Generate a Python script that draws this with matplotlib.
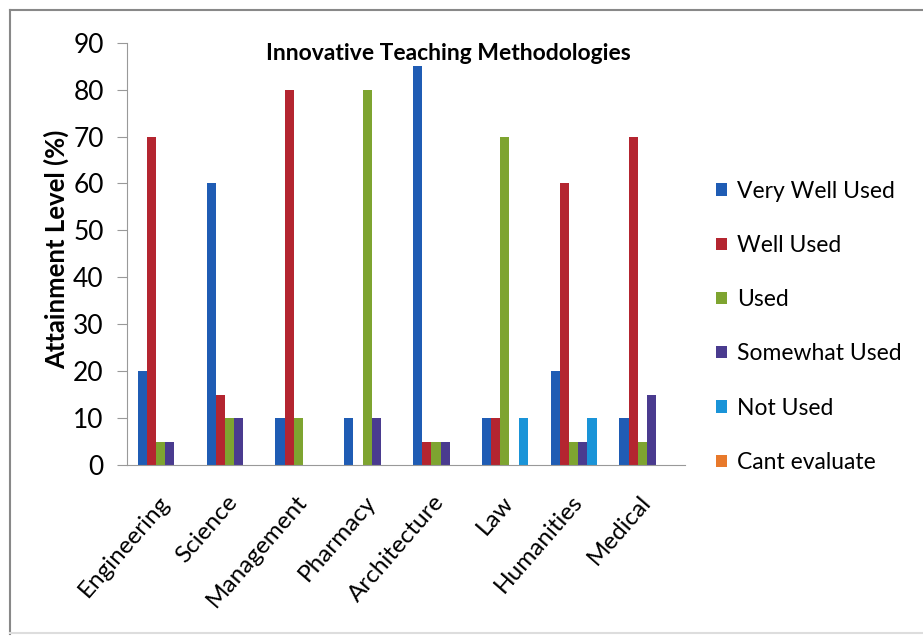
import numpy as np
import matplotlib.pyplot as plt
from matplotlib.lines import Line2D

# faculties on the x axis
faculties = ['Engineering', 'Science', 'Management', 'Pharmacy',
             'Architecture', 'Law', 'Humanities', 'Medical']

# attainment level (%) per response, one value per faculty
very_well_used = [20, 60, 10, 10, 85, 10, 20, 10]
well_used = [70, 15, 80, 0, 5, 10, 60, 70]
used = [5, 10, 10, 80, 5, 70, 5, 5]
somewhat_used = [5, 10, 0, 10, 5, 0, 5, 15]
not_used = [0, 0, 0, 0, 0, 10, 10, 0]
cant_evaluate = [0, 0, 0, 0, 0, 0, 0, 0]

series = [
    ('Very Well Used', very_well_used, '#1f5cb4'),
    ('Well Used', well_used, '#b42530'),
    ('Used', used, '#7ea430'),
    ('Somewhat Used', somewhat_used, '#4a3b8f'),
    ('Not Used', not_used, '#1a94d8'),
    ('Cant evaluate', cant_evaluate, '#e8792b'),
]

plt.rcParams['font.family'] = ['Lato', 'DejaVu Sans']

fig = plt.figure(figsize=(9.23, 6.37), dpi=100)
ax = fig.add_axes([0.138, 0.270, 0.604, 0.663])

x = np.arange(len(faculties))
w = 1 / 7.5
for i, (name, vals, col) in enumerate(series):
    ax.bar(x + (i - 2.5) * w, vals, width=w, color=col, label=name)

ax.set_xlim(-0.55, len(faculties) - 0.45)
ax.set_ylim(0, 90)
ax.set_yticks(range(0, 91, 10))
ax.tick_params(axis='y', labelsize=19, length=7, color='#999999', pad=10)
ax.tick_params(axis='x', length=0, pad=24)
ax.set_xticks(x)
ax.set_xticklabels(faculties, rotation=49, ha='right', va='center',
                   rotation_mode='anchor', fontsize=17.5)
for sp in ['top', 'right']:
    ax.spines[sp].set_visible(False)
ax.spines['left'].set_color('#999999')
ax.spines['bottom'].set_color('#999999')
ax.set_ylabel('Attainment Level (%)', fontsize=18.5, fontweight='bold')
ax.yaxis.set_label_coords(-0.104, 0.51)

fig.text(0.486, 0.916, 'Innovative Teaching Methodologies', fontsize=16.5,
         fontweight='bold', ha='center', va='center')

handles, labels = ax.get_legend_handles_labels()
fig.legend(handles, labels, loc='center left', bbox_to_anchor=(0.776, 0.487),
           frameon=False, fontsize=16.5, handlelength=0.45, handleheight=0.45,
           handletextpad=0.45, labelspacing=1.45, borderpad=0, borderaxespad=0)

# outer chart border
fig.add_artist(Line2D([0.011, 0.011], [0.005, 0.985], color='#888888', lw=1.5))
fig.add_artist(Line2D([0.011, 1.0], [0.985, 0.985], color='#888888', lw=1.5))
fig.add_artist(Line2D([0.011, 1.0], [0.007, 0.007], color='#dddddd', lw=1.5))

fig.savefig('out.png', dpi=100)
